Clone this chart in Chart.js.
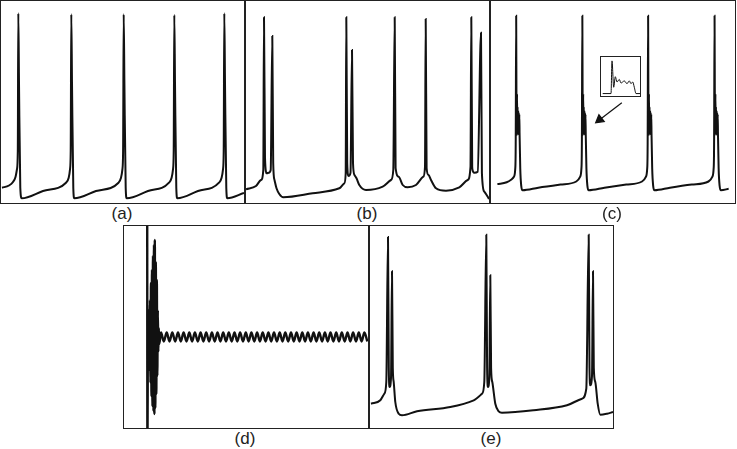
<!DOCTYPE html>
<html>
<head>
<meta charset="utf-8">
<script src="https://cdn.jsdelivr.net/npm/chart.js@4.4.0/dist/chart.umd.min.js"></script>
<style>
  body { margin: 0; background: #fff; width: 737px; height: 449px; position: relative; overflow: hidden;
         font-family: "Liberation Sans", Arial, sans-serif; }
  .panel { position: absolute; box-sizing: border-box; border: 1px solid #222; background: #fff; }
  .panel canvas { display: block; }
  .lbl { position: absolute; font-size: 17px; line-height: 17px; color: #222; transform: translateX(-50%); }
</style>
</head>
<body>
<div class="panel" style="left:0;top:0;width:245px;height:204px"><canvas id="chartA" width="243" height="202"></canvas></div>
<div class="panel" style="left:245px;top:0;width:245px;height:204px"><canvas id="chartB" width="243" height="202"></canvas></div>
<div class="panel" style="left:490px;top:0;width:246px;height:204px"><canvas id="chartC" width="244" height="202"></canvas></div>
<div class="panel" style="left:600px;top:56px;width:41px;height:41px"><canvas id="chartInset" width="39" height="39"></canvas></div>
<div class="panel" style="left:123px;top:225px;width:246px;height:204px"><canvas id="chartD" width="244" height="202"></canvas></div>
<div class="panel" style="left:369px;top:225px;width:245px;height:204px"><canvas id="chartE" width="243" height="202"></canvas></div>

<div class="lbl" style="left:122px;top:205px">(a)</div>
<div class="lbl" style="left:367px;top:205px">(b)</div>
<div class="lbl" style="left:612px;top:205px">(c)</div>
<div class="lbl" style="left:245px;top:430px">(d)</div>
<div class="lbl" style="left:491px;top:430px">(e)</div>

<script>
// traces: [time, membrane value] (arbitrary units, 0..202 vertical)

// (a) regular spiking
const traceA = [
  [1, 15.3], [8, 17.5], [12, 21], [14.5, 26], [16, 34], [16.8, 52], [17.3, 189.7], [18, 120], [19.3, 15], [20.7, 4.7],
  [42, 12], [65, 20.3], [67.7, 25.3], [69, 33.7], [69.7, 52], [70.3, 188.7], [71, 120], [72.3, 15], [73.3, 4.7],
  [95, 12], [117.5, 20.3], [120, 25.3], [121.4, 33.7], [122.1, 52], [122.7, 188.7], [123.4, 120], [124.7, 15], [125.7, 4.7],
  [147, 12], [168, 20.3], [170.6, 25.3], [172, 33.7], [172.7, 52], [173.3, 188], [174, 120], [175.3, 15], [176.3, 4.7],
  [197, 12], [218, 20.3], [220.6, 25.3], [222, 33.7], [222.7, 52], [223.3, 189.7], [224, 120], [225.3, 15], [226.3, 4.7],
  [243, 10]
];

// (b) irregular doublets / singlets
const traceB = [
  [0, 13.7], [10, 17], [15, 23], [17.3, 33], [18, 185.7], [19, 45], [20.7, 29.7], [22.7, 30.3], [24.7, 33], [26.3, 167],
  [27.2, 40], [28.5, 23], [30.5, 14.7], [33.3, 9], [37.3, 5.7], [66.7, 9.7], [93.3, 14.7], [98.3, 19.7], [99.7, 29.7], [100.3, 185.7],
  [101.2, 40], [102.5, 27], [104.5, 30.3], [106, 153], [107, 40], [108.5, 28], [110.5, 24.7], [113.3, 18], [120, 13], [136.7, 16.3],
  [145, 23], [147.3, 33], [148.7, 185.7], [149.6, 35], [152.7, 26.3], [156.7, 18], [161.7, 15.7], [170, 18], [177.3, 26.3], [179, 36.3],
  [179.7, 184], [180.6, 35], [182.5, 28], [185, 23], [190, 14.7], [200, 12.3], [213.3, 15.7], [221.7, 23], [224.5, 36.3], [225.3, 185.7],
  [226.2, 35], [228.3, 30.3], [231.7, 31.3], [235, 170.3], [235.9, 30], [238.3, 11.3], [241.7, 6.3], [243, 4]
];

// (c) spikes followed by fast plateau oscillations
const traceC = [
  [0, 13.5], [10, 15.5], [15, 18.5], [17.6, 21.3], [19, 29.7], [19.5, 56], [20, 193],
  [20.3, 100], [20.6, 66], [20.9, 110], [21.2, 68], [21.5, 96], [21.8, 66], [22.1, 92], [22.4, 68], [22.7, 90], [23.0, 66], [23.3, 88], [23.6, 66],
  [24.3, 30], [25.3, 12], [26.7, 7],
  [43.3, 9.7], [66.7, 13], [83.3, 16.3], [87.3, 21.3], [88.7, 29.7], [89.2, 56], [89.7, 193],
  [90.0, 100], [90.3, 66], [90.6, 110], [90.9, 68], [91.2, 96], [91.5, 66], [91.8, 92], [92.1, 68], [92.4, 90], [92.7, 66], [93.0, 88], [93.3, 66],
  [94.0, 30], [95.0, 12], [96.4, 7],
  [113, 9.7], [136, 13], [152.6, 16.3], [156.6, 21.3], [158, 29.7], [158.5, 56], [159, 193],
  [159.3, 100], [159.6, 66], [159.9, 110], [160.2, 68], [160.5, 96], [160.8, 66], [161.1, 92], [161.4, 68], [161.7, 90], [162.0, 66], [162.3, 88], [162.6, 66],
  [163.3, 30], [164.3, 12], [165.7, 7],
  [182, 9.7], [205, 13], [222.6, 16.3], [226.6, 21.3], [228, 29.7], [228.5, 56], [229, 193],
  [229.3, 100], [229.6, 66], [229.9, 110], [230.2, 68], [230.5, 96], [230.8, 66], [231.1, 92], [231.4, 68], [231.7, 90], [232.0, 66], [232.3, 88], [232.6, 66],
  [233.3, 30], [234.3, 12], [235.7, 7], [244, 8.5]
];

// inset of (c): one spike + plateau, zoomed
const traceInset = [
  [1.7, 2.3], [10, 2.3], [11, 33.3], [12.7, 8.3], [14.3, 18.3], [16, 13.3], [18.3, 15.7], [20, 12.3], [23.3, 14.3],
  [26, 11.7], [28.3, 14.3], [30, 11.7], [31.7, 13.3], [33.3, 8.3], [35, 2.3], [39, 2.3]
];

// arrow in (c), from inset to plateau
const arrowC = [[131.3, 100.3], [107.9, 82.1]];

// (d) transient then small sustained oscillation
const traceD = [
  [23.2, 230], [23.4, -20], [24.0, 100], [24.5, 70], [25.0, 118], [25.5, 58], [26.0, 128], [26.5, 45], [27.0, 145], [27.5, 32],
  [28.0, 158], [28.5, 22], [29.0, 172], [29.5, 17], [30.0, 183], [30.4, 14], [30.8, 188], [31.3, 20], [31.8, 166], [32.3, 34],
  [32.8, 148], [33.3, 52], [33.8, 118], [34.3, 76], [34.8, 100], [35.3, 84],
  [37.0, 95.5], [39.8, 86.5], [42.7, 95.5], [45.5, 86.5], [48.3, 95.5], [51.2, 86.5], [54.0, 95.5], [56.8, 86.5],
  [59.6, 95.5], [62.5, 86.5], [65.3, 95.5], [68.1, 86.5], [70.9, 95.5], [73.8, 86.5], [76.6, 95.5], [79.4, 86.5],
  [82.2, 95.5], [85.1, 86.5], [87.9, 95.5], [90.7, 86.5], [93.5, 95.5], [96.4, 86.5], [99.2, 95.5], [102.0, 86.5],
  [104.8, 95.5], [107.7, 86.5], [110.5, 95.5], [113.3, 86.5], [116.1, 95.5], [119.0, 86.5], [121.8, 95.5], [124.6, 86.5],
  [127.4, 95.5], [130.3, 86.5], [133.1, 95.5], [135.9, 86.5], [138.7, 95.5], [141.6, 86.5], [144.4, 95.5], [147.2, 86.5],
  [150.0, 95.5], [152.9, 86.5], [155.7, 95.5], [158.5, 86.5], [161.3, 95.5], [164.2, 86.5], [167.0, 95.5], [169.8, 86.5],
  [172.6, 95.5], [175.5, 86.5], [178.3, 95.5], [181.1, 86.5], [183.9, 95.5], [186.8, 86.5], [189.6, 95.5], [192.4, 86.5],
  [195.2, 95.5], [198.1, 86.5], [200.9, 95.5], [203.7, 86.5], [206.5, 95.5], [209.4, 86.5], [212.2, 95.5], [215.0, 86.5],
  [217.8, 95.5], [220.7, 86.5], [223.5, 95.5], [226.3, 86.5], [229.1, 95.5], [232.0, 86.5], [234.8, 95.5], [237.6, 86.5],
  [240.4, 95.5], [243.3, 86.5]
];

// (e) periodic doublets
const traceE = [
  [1, 24.3], [10.3, 27.7], [14.3, 34.3], [16.3, 46], [18, 191], [18.8, 60], [19.6, 41], [21, 50], [22, 156.7], [22.8, 60],
  [23.7, 46], [25.3, 26], [28.7, 14.3], [32, 12.7], [47, 16.7], [80.3, 21], [103.7, 27.7], [112, 34.3], [114.3, 46], [116.3, 193.3],
  [117.1, 60], [118, 41], [119.3, 50], [120.3, 152.7], [121.1, 60], [122.3, 46], [125.3, 24.3], [128.7, 16.7], [132, 15.3], [163.7, 17.7],
  [197, 22.7], [212, 29.3], [216.3, 39.3], [218.7, 193.3], [219.5, 60], [220.3, 42.7], [222, 52], [223, 156.7], [223.8, 60], [225.3, 46],
  [227.7, 24.3], [230.3, 13.3], [237, 14.3], [243, 16]
];

function toXY(arr) {
    return arr.map(p => ({ x: p[0], y: p[1] }));
}

function traceChart(id, trace, xMax, yMax, width, extraSets) {
    const datasets = [{
        data: toXY(trace),
        borderColor: '#111',
        borderWidth: width,
        pointRadius: 0,
        fill: false,
        cubicInterpolationMode: 'monotone'
    }].concat(extraSets || []);

    return new Chart(document.getElementById(id).getContext('2d'), {
        type: 'line',
        data: { datasets: datasets },
        options: {
            responsive: false,
            animation: false,
            layout: { padding: 0 },
            scales: {
                x: { type: 'linear', min: 0, max: xMax, display: false },
                y: { type: 'linear', min: 0, max: yMax, display: false }
            },
            plugins: { legend: { display: false }, tooltip: { enabled: false } }
        }
    });
}

traceChart('chartA', traceA, 243, 202, 2);
traceChart('chartB', traceB, 243, 202, 2);
traceChart('chartC', traceC, 244, 202, 2, [{
    data: toXY(arrowC),
    borderColor: '#111',
    backgroundColor: '#111',
    borderWidth: 1.2,
    pointStyle: 'triangle',
    pointRadius: [0, 5],
    pointRotation: [0, 232],
    tension: 0
}]);
traceChart('chartInset', traceInset, 39, 37, 1);
traceChart('chartD', traceD, 244, 202, 2.4);
traceChart('chartE', traceE, 243, 202, 2);
</script>
</body>
</html>
